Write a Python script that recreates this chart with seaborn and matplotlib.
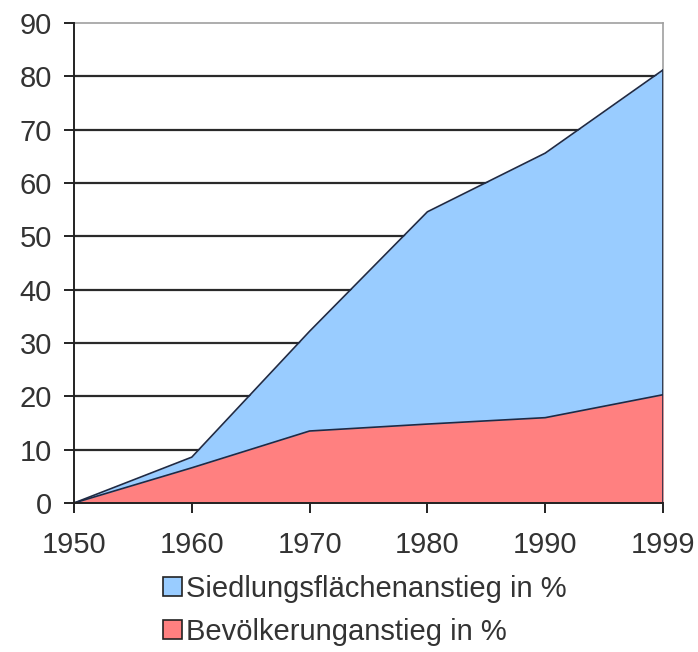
import matplotlib.pyplot as plt
import matplotlib.patches as mpatches
import numpy as np
import pandas as pd
import seaborn as sns

# Data
years = ["1950", "1960", "1970", "1980", "1990", "1999"]
siedlung = [0, 8.6, 32.2, 54.6, 65.6, 81.2]
bevoelkerung = [0, 6.6, 13.5, 14.8, 16.0, 20.3]

df = pd.DataFrame({"year": years, "siedlung": siedlung, "bevoelkerung": bevoelkerung})
df["pos"] = np.arange(len(df))

sns.set_style("white")
plt.rcParams["font.family"] = ["Liberation Sans", "DejaVu Sans"]

fig = plt.figure(figsize=(6.98, 6.52), dpi=100)
ax = fig.add_axes([74 / 698, 1 - 503 / 652, 589 / 698, 480 / 652])

blue = "#99ccff"
red = "#ff8080"
edge = "#1f2a44"

ax.fill_between(df["pos"], df["siedlung"], color=blue, zorder=2, lw=0)
sns.lineplot(data=df, x="pos", y="siedlung", color=edge, lw=1.2, ax=ax, zorder=3)
ax.fill_between(df["pos"], df["bevoelkerung"], color=red, zorder=4, lw=0)
sns.lineplot(data=df, x="pos", y="bevoelkerung", color=edge, lw=1.2, ax=ax, zorder=5)
ax.plot([df["pos"].iloc[-1]] * 2, [0, df["siedlung"].iloc[-1]], color=edge, lw=1.2, zorder=5)

ax.set_xlim(0, len(df) - 1)
ax.set_ylim(0, 90)
ax.set_yticks(range(0, 91, 10))
ax.set_xticks(df["pos"])
ax.set_xticklabels(years)
ax.set_xlabel("")
ax.set_ylabel("")

for y in range(10, 90, 10):
    ax.axhline(y, color="#2a2a2a", lw=1.6, zorder=1)

for side in ["top", "right"]:
    ax.spines[side].set_color("#a0a0a0")
    ax.spines[side].set_linewidth(1.2)
for side in ["left", "bottom"]:
    ax.spines[side].set_color("#222222")
    ax.spines[side].set_linewidth(1.4)
    ax.spines[side].set_zorder(6)

ax.tick_params(axis="both", direction="out", length=7, width=1.4, color="#222222",
               labelsize=21, labelcolor="#333333", left=True, bottom=True)
ax.tick_params(axis="y", pad=9)
ax.tick_params(axis="x", pad=13)

handles = [
    mpatches.Patch(facecolor=blue, edgecolor="#222222", lw=1.2, label="Siedlungsflächenanstieg in %"),
    mpatches.Patch(facecolor=red, edgecolor="#222222", lw=1.2, label="Bevölkerunganstieg in %"),
]
fig.legend(handles=handles, loc="upper left", bbox_to_anchor=(163 / 698, 1 - 575 / 652),
           frameon=False, fontsize=21, handlelength=0.65, handleheight=0.65,
           handletextpad=0.15, labelspacing=0.5, borderaxespad=0, borderpad=0,
           labelcolor="#333333")

fig.savefig("out.png", dpi=100)
